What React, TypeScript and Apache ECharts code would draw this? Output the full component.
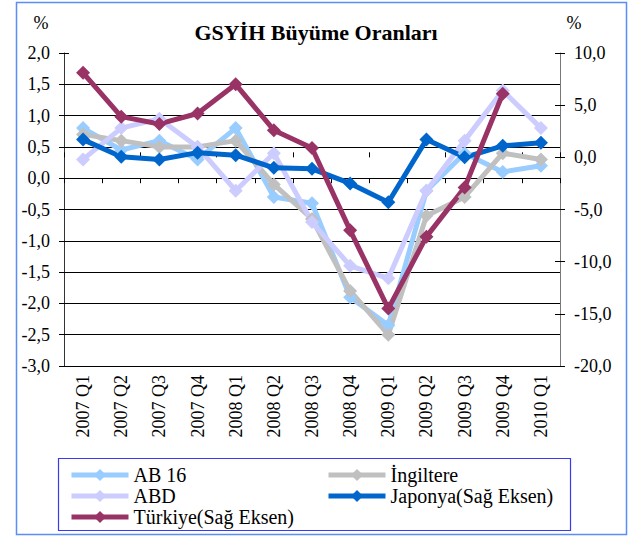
import React, { useEffect, useRef } from 'react';
import * as echarts from 'echarts';

const categories = ['2007 Q1', '2007 Q2', '2007 Q3', '2007 Q4', '2008 Q1', '2008 Q2', '2008 Q3', '2008 Q4', '2009 Q1', '2009 Q2', '2009 Q3', '2009 Q4', '2010 Q1'];
const ab16 = [0.8, 0.45, 0.6, 0.3, 0.8, -0.3, -0.4, -1.9, -2.35, -0.2, 0.4, 0.1, 0.2];
const ingiltere = [0.7, 0.6, 0.5, 0.5, 0.6, -0.1, -0.65, -1.8, -2.5, -0.6, -0.3, 0.4, 0.3];
const abd = [0.3, 0.8, 0.95, 0.5, -0.2, 0.4, -0.7, -1.4, -1.6, -0.2, 0.6, 1.4, 0.8];
const japonya = [1.7, 0.05, -0.2, 0.45, 0.2, -1.0, -1.1, -2.5, -4.3, 1.7, 0.0, 1.1, 1.4];
const turkiye = [8.1, 3.9, 3.2, 4.2, 7.0, 2.6, 0.9, -7.0, -14.5, -7.6, -2.9, 6.1, null];

const leftMin = -3, leftMax = 2, leftStep = 0.5;
const rightMin = -20, rightMax = 10, rightStep = 5;

const FONT = '"Liberation Serif", "Times New Roman", serif';
const fmt = (v: number) => v.toFixed(1).replace('.', ',');

const seriesDefs = [
  { name: 'AB 16', data: ab16, color: '#99CCFF', axis: 0 },
  { name: 'İngiltere', data: ingiltere, color: '#C0C0C0', axis: 0 },
  { name: 'ABD', data: abd, color: '#CCCCFF', axis: 0 },
  { name: 'Japonya(Sağ Eksen)', data: japonya, color: '#0066CC', axis: 1 },
  { name: 'Türkiye(Sağ Eksen)', data: turkiye, color: '#993366', axis: 1 },
];

const legendPos = [
  { left: 69, top: 465 },
  { left: 326, top: 465 },
  { left: 69, top: 486 },
  { left: 326, top: 486 },
  { left: 69, top: 507 },
];

export default function App() {
  const ref = useRef<HTMLDivElement>(null);
  useEffect(() => {
    const chart = echarts.init(ref.current!, undefined, { renderer: 'svg' });
    const labelStyle = { fontFamily: FONT, fontSize: 18, color: '#000' };
    const option: any = {
      animation: false,
      backgroundColor: '#fff',
      textStyle: { fontFamily: FONT },
      title: {
        text: 'GSYİH Büyüme Oranları',
        left: 'center',
        top: 16,
        textStyle: { fontFamily: FONT, fontSize: 22, fontWeight: 'bold', color: '#000' },
      },
      grid: { left: 64, right: 72, top: 53, bottom: 170, containLabel: false },
      xAxis: [
        {
          type: 'category',
          data: categories,
          boundaryGap: true,
          axisLine: { show: true, lineStyle: { color: '#000', width: 1 } },
          axisTick: { show: true, inside: false, length: 5, lineStyle: { color: '#000' } },
          axisLabel: { rotate: 90, margin: 9, interval: 0, ...labelStyle },
          splitLine: { show: false },
        },
        {
          type: 'category',
          data: categories,
          position: 'bottom',
          boundaryGap: true,
          axisLine: { show: false },
          axisTick: { show: true, inside: true, length: 5, lineStyle: { color: '#000' } },
          axisLabel: { show: false },
          splitLine: { show: false },
        },
      ],
      yAxis: [
        {
          type: 'value',
          position: 'left',
          min: leftMin,
          max: leftMax,
          interval: leftStep,
          axisLine: { show: true, lineStyle: { color: '#333', width: 1 } },
          axisTick: { show: true, inside: false, length: 5, lineStyle: { color: '#000' } },
          axisLabel: { formatter: fmt, margin: 14, ...labelStyle },
          splitLine: { show: true, showMaxLine: false, lineStyle: { color: '#000', width: 1 } },
        },
        {
          type: 'value',
          position: 'right',
          min: rightMin,
          max: rightMax,
          interval: rightStep,
          axisLine: { show: true, lineStyle: { color: '#777', width: 1 } },
          axisTick: { show: true, inside: false, length: 5, lineStyle: { color: '#000' } },
          axisLabel: { formatter: fmt, margin: 14, ...labelStyle },
          splitLine: { show: false },
        },
        {
          type: 'value',
          position: 'left',
          min: leftMin,
          max: leftMax,
          interval: leftStep,
          axisLine: { show: false },
          axisTick: { show: true, inside: true, length: 5, lineStyle: { color: '#000' } },
          axisLabel: { show: false },
          splitLine: { show: false },
        },
        {
          type: 'value',
          position: 'right',
          min: rightMin,
          max: rightMax,
          interval: rightStep,
          axisLine: { show: false },
          axisTick: { show: true, inside: true, length: 5, lineStyle: { color: '#000' } },
          axisLabel: { show: false },
          splitLine: { show: false },
        },
      ],
      legend: seriesDefs.map((s, i) => ({
        data: [s.name],
        left: legendPos[i].left,
        top: legendPos[i].top,
        padding: 0,
        itemWidth: 57,
        itemHeight: 15,
        selectedMode: false,
        lineStyle: { width: 5 },
        textStyle: { fontFamily: FONT, fontSize: 20, lineHeight: 19, color: '#000' },
      })),
      series: seriesDefs.map((s) => ({
        name: s.name,
        type: 'line',
        data: s.data,
        xAxisIndex: 0,
        yAxisIndex: s.axis,
        symbol: 'diamond',
        symbolSize: 14,
        showAllSymbol: true,
        connectNulls: false,
        color: s.color,
        lineStyle: { color: s.color, width: 5 },
        itemStyle: { color: s.color },
      })),
      graphic: [
        {
          type: 'rect',
          shape: { x: 16.5, y: 2.5, width: 610, height: 532 },
          style: { fill: 'none', stroke: '#5A8DFA', lineWidth: 1.5 },
          silent: true,
          z: -1,
        },
        {
          type: 'rect',
          shape: { x: 58.5, y: 458.5, width: 512, height: 72 },
          style: { fill: 'none', stroke: '#3A3AF0', lineWidth: 1.2 },
          silent: true,
        },
        {
          type: 'text',
          x: 41,
          y: 23,
          style: { text: '%', fontFamily: FONT, fontSize: 18, fill: '#000', align: 'center', verticalAlign: 'middle' },
        },
        {
          type: 'text',
          x: 574,
          y: 23,
          style: { text: '%', fontFamily: FONT, fontSize: 18, fill: '#000', align: 'center', verticalAlign: 'middle' },
        },
      ],
    };
    chart.setOption(option);
    return () => chart.dispose();
  }, []);
  return (
    <div
      ref={ref}
      style={{ position: 'fixed', left: 0, top: 0, width: 632, height: 536, background: '#fff' }}
    />
  );
}
